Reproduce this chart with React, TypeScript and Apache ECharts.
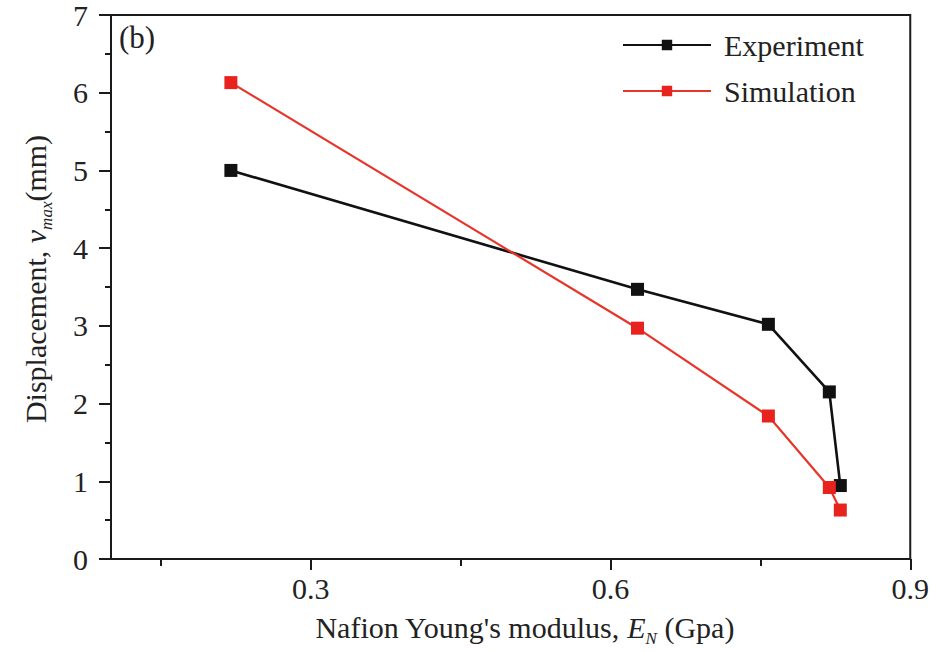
import React, { useEffect, useRef } from "react";
import * as echarts from "echarts";

const modulus = [0.22, 0.627, 0.758, 0.819, 0.83];
const experiment = [5.0, 3.47, 3.02, 2.15, 0.945];
const simulation = [6.13, 2.97, 1.84, 0.92, 0.63];
const xMajorTicks = [0.3, 0.6, 0.9];
const xMinorTicks = [0.15, 0.45, 0.75];
const seriesNames = ["Experiment", "Simulation"];

const FONT = "Liberation Serif";
const TXT = "#222";
const FS = 30;

export default function App() {
  const ref = useRef<HTMLDivElement>(null);
  useEffect(() => {
    const chart = echarts.init(ref.current!, null, { renderer: "svg" });
    const pair = (vals: number[]) => modulus.map((x, i) => [x, vals[i]]);
    const rich = {
      a: { fontFamily: FONT, fontSize: FS, lineHeight: 30, color: TXT, verticalAlign: "top" },
      i: { fontFamily: FONT, fontSize: FS, lineHeight: 30, color: TXT, fontStyle: "italic", verticalAlign: "top" },
      s: {
        fontFamily: FONT,
        fontSize: 17,
        lineHeight: 17,
        color: TXT,
        fontStyle: "italic",
        verticalAlign: "top",
        padding: [18, 0, 0, 0],
      },
    };
    chart.setOption({
      animation: false,
      backgroundColor: "#fff",
      textStyle: { fontFamily: FONT },
      grid: {
        left: 111,
        right: 12,
        top: 14,
        bottom: 85,
        show: true,
        borderColor: "#1a1a1a",
        borderWidth: 2,
      },
      legend: {
        orient: "vertical",
        left: 617,
        top: 25,
        itemWidth: 88,
        itemHeight: 13,
        itemGap: 16,
        data: seriesNames,
        textStyle: {
          fontFamily: FONT,
          fontSize: FS,
          color: TXT,
          padding: [0, 0, 0, 8],
        },
      },
      xAxis: [
        {
          type: "value",
          min: 0.1,
          max: 0.9,
          position: "bottom",
          name: "{a|Nafion Young's modulus, }{i|E}{s|N}{a| (Gpa)}",
          nameLocation: "middle",
          nameGap: 53,
          nameTextStyle: { rich, padding: [0, 0, 0, 28] },
          axisLine: { show: true, lineStyle: { color: "#1a1a1a", width: 2 } },
          axisTick: {
            show: true,
            inside: false,
            length: 11,
            customValues: xMajorTicks,
            lineStyle: { color: "#1a1a1a", width: 2 },
          },
          axisLabel: {
            customValues: xMajorTicks,
            margin: 14,
            fontFamily: FONT,
            fontSize: FS,
            color: TXT,
            formatter: (v: number) => v.toFixed(1),
          },
          splitLine: { show: false },
        },
        {
          type: "value",
          min: 0.1,
          max: 0.9,
          position: "bottom",
          axisLine: { show: false },
          axisTick: {
            show: true,
            length: 7,
            customValues: xMinorTicks,
            lineStyle: { color: "#1a1a1a", width: 2 },
          },
          axisLabel: { show: false },
          splitLine: { show: false },
        },
      ],
      yAxis: {
        type: "value",
        min: 0,
        max: 7,
        interval: 1,
        name: "{a|Displacement, }{i|v}{s|max}{a|(mm)}",
        nameLocation: "middle",
        nameGap: 61,
        nameRotate: 90,
        nameTextStyle: { rich, padding: [0, 0, 0, 16] },
        axisLine: { show: true, lineStyle: { color: "#1a1a1a", width: 2 } },
        axisTick: { show: true, length: 12, lineStyle: { color: "#1a1a1a", width: 2 } },
        minorTick: { show: true, splitNumber: 2, length: 6, lineStyle: { color: "#1a1a1a", width: 2 } },
        axisLabel: { margin: 23, fontFamily: FONT, fontSize: FS, color: TXT },
        splitLine: { show: false },
        minorSplitLine: { show: false },
      },
      graphic: [
        {
          type: "text",
          left: 119,
          top: 22,
          style: { text: "(b)", font: `31px ${FONT}`, fill: TXT },
        },
      ],
      series: [
        {
          name: seriesNames[0],
          type: "line",
          data: pair(experiment),
          symbol: "rect",
          symbolSize: 13,
          lineStyle: { color: "#111", width: 2.6 },
          itemStyle: { color: "#111" },
        },
        {
          name: seriesNames[1],
          type: "line",
          data: pair(simulation),
          symbol: "rect",
          symbolSize: 13,
          lineStyle: { color: "#e8352a", width: 2.2 },
          itemStyle: { color: "#e8231e" },
        },
      ],
    });
    return () => chart.dispose();
  }, []);
  return (
    <div
      ref={ref}
      style={{ position: "fixed", left: 0, top: 0, width: 932, height: 652, background: "#fff" }}
    />
  );
}
